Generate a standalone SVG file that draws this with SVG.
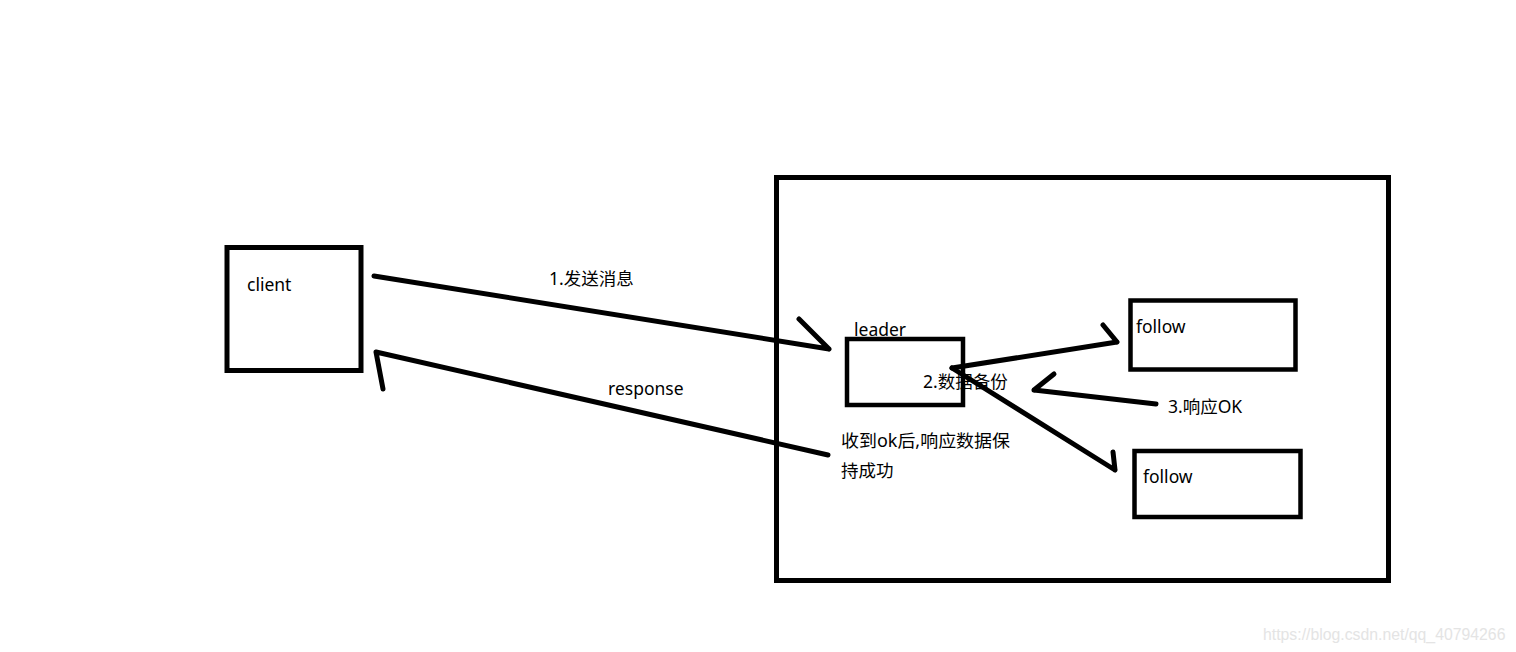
<svg xmlns="http://www.w3.org/2000/svg" width="1516" height="652" viewBox="0 0 1516 652">
<style>
.box{fill:none;stroke:#000;stroke-width:5}
.ln{fill:none;stroke:#000;stroke-width:5;stroke-linecap:round;stroke-linejoin:round}
text{font-family:"Noto Sans","Noto Sans CJK SC",sans-serif;font-size:17.5px;fill:#000}
.wm{font-family:"Liberation Sans",Arial,sans-serif;font-size:15.8px;fill:#e4e4e4}
</style>
<rect width="1516" height="652" fill="#fff"/>
<g id="cluster"><rect class="box" x="776.5" y="177.5" width="612" height="403"/></g>
<g id="client"><rect class="box" x="227" y="247.5" width="134" height="123"/><text x="247" y="291">client</text></g>
<g id="leader"><rect class="box" x="847" y="339" width="116" height="66" style="stroke-width:4.5"/><text x="854" y="336">leader</text></g>
<g id="follow1"><rect class="box" x="1130.5" y="300.5" width="165" height="69" style="stroke-width:4.5"/><text x="1136" y="333">follow</text></g>
<g id="follow2"><rect class="box" x="1134.5" y="451" width="166" height="66" style="stroke-width:4.5"/><text x="1143" y="483">follow</text></g>
<g id="connectors">
<path class="ln" d="M374,276 L829,349 M799,319 L829,349"/>
<path class="ln" d="M828,455 L376,352 M376,352 L383,389"/>
<path class="ln" d="M952,368 L1117,342 M1103,325 L1117,342"/>
<path class="ln" d="M952,368 L1115,470 M1113,452 L1115,470"/>
<path class="ln" d="M1156,404 L1034,390 M1034,390 L1054,374"/>
</g>
<g id="labels">
<text x="549" y="285">1.发送消息</text>
<text x="608" y="395">response</text>
<text x="923" y="388">2.数据备份</text>
<text x="1168" y="413">3.响应OK</text>
<text x="841" y="447" textLength="169" lengthAdjust="spacingAndGlyphs">收到ok后,响应数据保</text>
<text x="841" y="477">持成功</text>
</g>
<text class="wm" x="1263" y="640">https://blog.csdn.net/qq_40794266</text>
</svg>
